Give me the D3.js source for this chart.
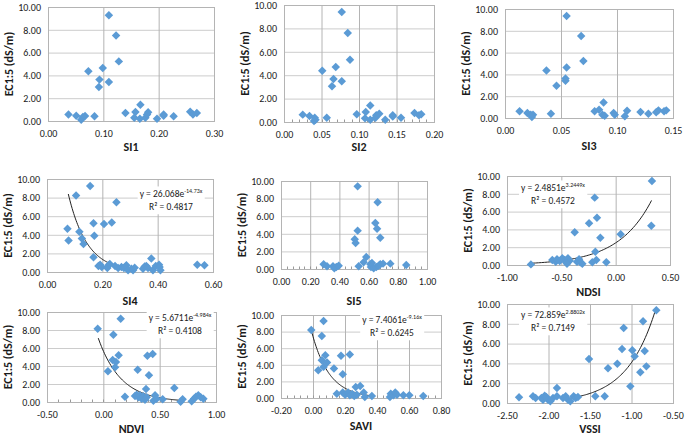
<!DOCTYPE html>
<html>
<head>
<meta charset="utf-8">
<script src="https://cdn.jsdelivr.net/npm/d3@7"></script>
<style>
  body { margin: 0; background: #fff; }
  text { font-family: Carlito, "Liberation Sans", Arial, sans-serif; }
</style>
</head>
<body>
<svg id="chart" width="685" height="435"></svg>
<script>
// values: [index value, EC1:5 in dS/m]
const si1Points = [[0.110,9.27],[0.123,7.51],[0.128,5.23],[0.099,4.65],[0.073,4.36],[0.093,3.63],[0.110,3.42],[0.092,2.98],
  [0.037,0.58],[0.051,0.47],[0.060,0.10],[0.063,0.35],[0.067,0.44],[0.084,0.41],[0.140,0.70],[0.158,0.79],[0.156,0.29],
  [0.167,1.43],[0.166,0.20],[0.176,0.29],[0.179,0.58],[0.181,0.76],[0.197,0.20],[0.209,0.58],[0.209,0.47],[0.227,0.41],
  [0.257,0.82],[0.262,0.58],[0.269,0.70]]

const si2Points = [[0.077,9.40],[0.085,7.61],[0.088,5.33],[0.069,4.70],[0.051,4.39],[0.066,3.68],[0.077,3.48],[0.064,3.05],
  [0.025,0.63],[0.034,0.51],[0.041,0.37],[0.042,0.20],[0.040,0.09],[0.057,0.37],[0.097,0.66],[0.109,0.85],[0.108,0.31],
  [0.115,1.42],[0.115,0.20],[0.122,0.37],[0.123,0.57],[0.127,0.71],[0.135,0.20],[0.145,0.57],[0.145,0.48],[0.156,0.37],
  [0.174,0.77],[0.180,0.57],[0.183,0.66]]

const si3Points = [[0.055,9.36],[0.068,7.53],[0.070,5.24],[0.055,4.63],[0.037,4.36],[0.054,3.63],[0.054,3.41],[0.046,2.96],
  [0.013,0.61],[0.020,0.46],[0.023,0.30],[0.024,0.10],[0.025,0.30],[0.041,0.40],[0.080,0.61],[0.084,0.76],[0.088,1.43],
  [0.087,0.30],[0.089,0.21],[0.097,0.46],[0.098,0.30],[0.107,0.15],[0.109,0.67],[0.121,0.55],[0.128,0.40],[0.135,0.52],
  [0.137,0.70],[0.142,0.61],[0.144,0.70]]

const si4Points = [[0.156,9.24],[0.105,8.23],[0.251,7.51],[0.168,5.23],[0.206,5.16],[0.234,5.31],[0.074,4.66],[0.117,4.33],
  [0.171,3.90],[0.078,3.39],[0.126,3.61],[0.132,3.00],[0.168,1.59],[0.186,0.65],[0.192,0.79],[0.198,0.54],[0.218,0.43],
  [0.222,0.72],[0.227,0.87],[0.246,0.65],[0.257,0.43],[0.269,0.54],[0.278,0.43],[0.287,0.72],[0.293,0.18],[0.305,0.36],
  [0.311,0.18],[0.317,0.47],[0.347,0.36],[0.353,0.58],[0.359,0.65],[0.365,0.43],[0.377,1.44],[0.383,0.18],[0.393,0.65],
  [0.405,0.79],[0.407,0.54],[0.410,0.18],[0.543,0.79],[0.569,0.72]]

const si5Points = [[0.525,9.39],[0.662,7.58],[0.646,5.23],[0.658,4.58],[0.525,4.36],[0.680,3.56],[0.505,3.37],[0.511,2.95],
  [0.584,1.36],[0.566,0.76],[0.532,0.30],[0.292,0.53],[0.315,0.30],[0.356,0.30],[0.365,0.08],[0.379,0.23],[0.395,0.38],
  [0.612,0.53],[0.623,0.68],[0.616,0.23],[0.635,0.08],[0.653,0.23],[0.669,0.38],[0.680,0.53],[0.699,0.61],[0.749,0.61],
  [0.858,0.45]]

const ndsiPoints = [[0.334,9.44],[-0.193,7.57],[-0.172,5.32],[-0.245,4.68],[0.328,4.42],[-0.377,3.67],[0.046,3.45],[-0.141,3.07],
  [-0.187,1.50],[-0.178,0.56],[-0.215,0.30],[-0.086,0.30],[-0.780,0.07],[-0.583,0.56],[-0.552,0.37],[-0.540,0.64],
  [-0.491,0.75],[-0.469,0.56],[-0.454,0.30],[-0.439,0.75],[-0.423,0.49],[-0.448,0.15],[-0.356,0.37],[-0.337,0.64],
  [-0.325,0.30],[-0.307,0.15],[-0.515,0.45]]

const ndviPoints = [[0.154,9.26],[-0.050,8.15],[0.089,7.48],[0.136,5.19],[0.391,5.15],[0.438,5.33],[0.083,4.67],[0.112,4.44],
  [0.104,3.85],[0.041,3.41],[0.305,3.59],[0.405,2.96],[0.379,1.44],[0.630,1.56],[0.192,0.59],[0.281,0.67],[0.296,0.81],
  [0.311,0.52],[0.325,0.74],[0.340,0.37],[0.355,0.63],[0.370,0.26],[0.385,0.52],[0.444,0.15],[0.459,0.74],[0.473,0.37],
  [0.527,0.30],[0.686,0.02],[0.704,0.30],[0.784,0.07],[0.805,0.37],[0.822,0.59],[0.843,0.74],[0.864,0.52],[0.888,0.37]]

const saviPoints = [[0.066,9.27],[-0.011,8.19],[0.055,7.46],[0.077,5.16],[0.175,5.08],[0.230,5.24],[0.055,4.56],[0.088,4.27],
  [0.066,3.75],[0.033,3.35],[0.131,3.55],[0.186,2.86],[0.267,1.33],[0.295,1.45],[0.149,0.52],[0.186,0.65],[0.201,0.40],
  [0.219,0.65],[0.230,0.32],[0.245,0.48],[0.258,0.24],[0.274,0.40],[0.317,0.65],[0.324,0.12],[0.368,0.24],[0.481,0.12],
  [0.486,0.52],[0.503,0.32],[0.514,0.65],[0.525,0.40],[0.565,0.32],[0.602,0.32],[0.689,0.24]]

const vssiPoints = [[-0.701,9.36],[-0.861,8.25],[-1.094,7.58],[-1.114,5.45],[-0.990,5.32],[-0.841,5.25],[-0.962,4.71],
  [-1.512,4.44],[-1.171,3.97],[-1.283,3.50],[-0.821,3.70],[-0.894,3.10],[-1.014,1.68],[-1.898,1.52],[-1.323,0.67],
  [-1.436,0.67],[-2.355,0.57],[-2.187,0.67],[-2.155,0.51],[-2.086,0.51],[-2.066,0.34],[-2.046,0.74],[-2.026,0.61],
  [-2.006,0.34],[-1.978,0.17],[-1.946,0.51],[-1.898,0.67],[-1.825,0.51],[-1.793,0.67],[-1.765,0.34],[-1.737,0.17],
  [-1.697,0.67],[-1.673,0.51],[-1.645,0.61]]

const ecTicks = [0, 2, 4, 6, 8, 10]

// exponential trendlines printed on the figure: y = a * e^(b x)
const si4Fit = { a: 26.068, b: -14.73, r2: "0.4817", from: 0.077, to: 0.30 }
const ndsiFit = { a: 2.4851, b: 3.2449, r2: "0.4572", from: -0.78, to: 0.33 }
const ndviFit = { a: 5.6711, b: -4.984, r2: "0.4108", from: -0.045, to: 0.70 }
const saviFit = { a: 7.4061, b: -9.16, r2: "0.6245", from: -0.015, to: 0.37 }
const vssiFit = { a: 72.859, b: 2.8802, r2: "0.7149", from: -1.85, to: -0.72 }

// panel layout: plot box is [left, top, right, bottom]
const panels = [
  { title: "SI1", points: si1Points, xDomain: [0, 0.3], xTicks: [0, 0.1, 0.2, 0.3], box: [48, 7, 214, 121], titleY: 148 },
  { title: "SI2", points: si2Points, xDomain: [0, 0.2], xTicks: [0, 0.05, 0.1, 0.15, 0.2], box: [284, 5, 434, 122], titleY: 148, minor: 5 },
  { title: "SI3", points: si3Points, xDomain: [0, 0.15], xTicks: [0, 0.05, 0.1, 0.15], box: [505, 9, 673, 118], titleY: 147 },
  { title: "SI4", points: si4Points, xDomain: [0, 0.6], xTicks: [0, 0.2, 0.4, 0.6], box: [47, 179, 213, 272], titleY: 302, fit: si4Fit, label: [171, 195, 208] },
  { title: "SI5", points: si5Points, xDomain: [0, 1], xTicks: [0, 0.2, 0.4, 0.6, 0.8, 1], box: [281, 181, 427, 269], titleY: 302, minor: 5 },
  { title: "NDSI", points: ndsiPoints, xDomain: [-1, 0.5], xTicks: [-1, -0.5, 0, 0.5], box: [507, 176, 670, 265], titleY: 293, fit: ndsiFit, label: [553, 189, 202] },
  { title: "NDVI", points: ndviPoints, xDomain: [-0.5, 1], xTicks: [-0.5, 0, 0.5, 1], box: [47, 312, 216, 402], titleY: 430, fit: ndviFit, label: [180, 319, 332], minor: 5 },
  { title: "SAVI", points: saviPoints, xDomain: [-0.2, 0.8], xTicks: [-0.2, 0, 0.2, 0.4, 0.6, 0.8], box: [281, 315, 441, 398], titleY: 427, fit: saviFit, label: [392, 321, 334], minor: 5 },
  { title: "VSSI", points: vssiPoints, xDomain: [-2.5, -0.5], xTicks: [-2.5, -2, -1.5, -1, -0.5], box: [507, 304, 673, 403], titleY: 430, fit: vssiFit, label: [553, 316, 329] }
]

const fmt = d => d.toFixed(2)
const svg = d3.select("#chart")
const diamond = d3.symbol(d3.symbolSquare, 36)

panels.forEach(p => {
  const [left, top, right, bottom] = p.box
  const width = right - left
  const height = bottom - top

  const xScale = d3.scaleLinear().domain(p.xDomain).range([left, right])
  const yScale = d3.scaleLinear().domain([0, 10]).range([bottom, top])

  const g = svg.append("g").attr("class", "panel")

  // y axis + horizontal gridlines
  g.append("g")
    .attr("transform", `translate(${left},0)`)
    .call(d3.axisLeft(yScale).tickValues(ecTicks).tickFormat(fmt).tickSize(-width).tickPadding(7))
    .call(a => a.select(".domain").remove())
    .call(a => a.selectAll(".tick line").attr("stroke", "#cccccc"))
    .call(a => a.selectAll(".tick text").attr("fill", "#1a1a1a").attr("font-size", "10px"))

  // x axis + vertical gridlines
  g.append("g")
    .attr("transform", `translate(0,${bottom})`)
    .call(d3.axisBottom(xScale).tickValues(p.xTicks).tickFormat(fmt).tickSize(-height).tickPadding(9))
    .call(a => a.select(".domain").remove())
    .call(a => a.selectAll(".tick line").attr("stroke", "#b4b4b4"))
    .call(a => a.selectAll(".tick text").attr("fill", "#1a1a1a").attr("font-size", "10px"))

  // minor ticks along the bottom
  if (p.minor) {
    const step = (p.xTicks[1] - p.xTicks[0]) / p.minor
    const minorTicks = d3.range(p.xDomain[0] + step, p.xDomain[1] - step / 2, step)
    g.selectAll(".minor").data(minorTicks).join("line")
      .attr("class", "minor")
      .attr("x1", d => Math.round(xScale(d)) + 0.5).attr("x2", d => Math.round(xScale(d)) + 0.5)
      .attr("y1", bottom).attr("y2", bottom - 2.5)
      .attr("stroke", "#999")
  }

  // plot frame
  g.append("rect")
    .attr("x", left + 0.5).attr("y", top + 0.5)
    .attr("width", width).attr("height", height)
    .attr("fill", "none").attr("stroke", "#b4b4b4")

  // trendline
  if (p.fit) {
    const f = p.fit
    const xs = d3.range(f.from, f.to, (f.to - f.from) / 80).concat([f.to])
    g.append("path")
      .datum(xs)
      .attr("d", d3.line().x(d => xScale(d)).y(d => yScale(f.a * Math.exp(f.b * d))))
      .attr("fill", "none")
      .attr("stroke", "#222")
      .attr("stroke-width", 1)
  }

  // points
  g.selectAll(".pt").data(p.points).join("path")
    .attr("class", "pt")
    .attr("d", diamond)
    .attr("transform", d => `translate(${xScale(d[0])},${yScale(d[1])}) rotate(45)`)
    .attr("fill", "#5B9BD5")

  // equation label
  if (p.fit) {
    const [cx, eqY, r2Y] = p.label
    const lab = g.append("g")
    const bg = lab.append("rect").attr("fill", "#fff")
    const eq = lab.append("text")
      .attr("x", cx).attr("y", eqY)
      .attr("text-anchor", "middle").attr("dominant-baseline", "middle")
      .attr("font-size", "9.5px").attr("fill", "#1a1a1a")
    eq.append("tspan").text(`y = ${p.fit.a}e`)
    eq.append("tspan").text(`${p.fit.b}x`).attr("font-size", "6px").attr("dy", -3)
    lab.append("text")
      .attr("x", cx).attr("y", r2Y)
      .attr("text-anchor", "middle").attr("dominant-baseline", "middle")
      .attr("font-size", "9.5px").attr("fill", "#1a1a1a")
      .text(`R² = ${p.fit.r2}`)
    const bb = lab.node().getBBox()
    bg.attr("x", bb.x - 2).attr("y", bb.y - 1).attr("width", bb.width + 4).attr("height", bb.height + 2)
  }

  // axis titles
  g.append("text")
    .attr("transform", `translate(${left - 38},${(top + bottom) / 2}) rotate(-90)`)
    .attr("text-anchor", "middle").attr("dominant-baseline", "middle")
    .attr("font-size", "12px").attr("font-weight", "bold").attr("fill", "#1a1a1a")
    .text("EC1:5 (dS/m)")

  g.append("text")
    .attr("x", (left + right) / 2).attr("y", p.titleY)
    .attr("text-anchor", "middle").attr("dominant-baseline", "middle")
    .attr("font-size", "12px").attr("font-weight", "bold").attr("fill", "#1a1a1a")
    .text(p.title)
})
</script>
</body>
</html>
